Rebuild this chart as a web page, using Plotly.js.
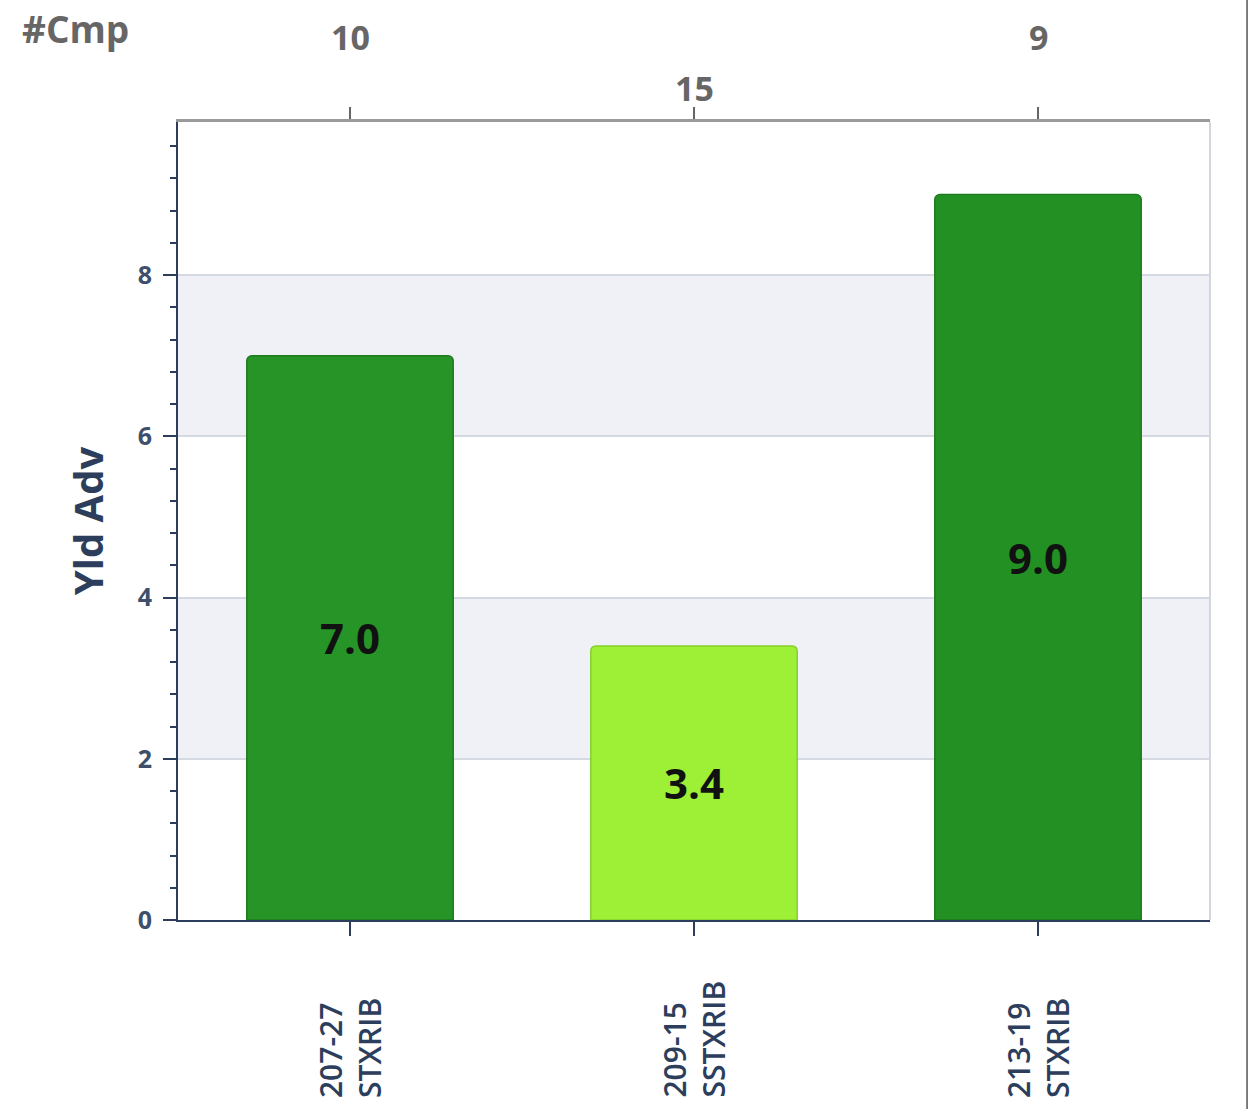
<!DOCTYPE html>
<html>
<head>
<meta charset="utf-8">
<script src="https://cdn.plot.ly/plotly-3.0.1.min.js"></script>
<style>html,body{margin:0;padding:0;background:#fff;}#chart{width:1258px;height:1109px;}</style>
</head>
<body>
<div id="chart"></div>
<script>
// ---- data ----
const categories = ["207-27<br>STXRIB", "209-15<br>SSTXRIB", "213-19<br>STXRIB"];
const yldAdv = [7.0, 3.4, 9.0];
const cmpCounts = [10, 15, 9];
const cmpLabelRow = [0, 1, 0]; // 0 = upper row, 1 = lower row (staggered labels)
const barColors = ["#279427", "#9ef036", "#239023"];
const barLineColors = ["#1d7a1d", "#86cf2e", "#1d7a1d"];
const shadedBands = [[2, 4], [6, 8]];

const FONT = "Open Sans, Liberation Sans, sans-serif";
const NAVY = "#2c3e5c";

const traces = [
  {
    type: "bar",
    x: categories,
    y: yldAdv,
    width: 0.6,
    marker: { color: barColors, line: { color: barLineColors, width: 1.5 }, cornerradius: 5 },
    text: yldAdv.map(v => v.toFixed(1)),
    textposition: "inside",
    insidetextanchor: "middle",
    textangle: 0,
    textfont: { family: FONT, size: 42, weight: 700, color: "#111" },
    hoverinfo: "x+y",
    showlegend: false
  },
  {
    type: "scatter",
    x: categories,
    y: yldAdv,
    xaxis: "x2",
    yaxis: "y",
    mode: "none",
    hoverinfo: "skip",
    showlegend: false
  }
];

const shapes = shadedBands.map(b => ({
  type: "rect", xref: "paper", yref: "y", x0: 0, x1: 1, y0: b[0], y1: b[1],
  fillcolor: "#eff1f6", line: { width: 0 }, layer: "below"
}));
shapes.push({ type: "line", xref: "paper", yref: "paper", x0: 1, x1: 1, y0: 0, y1: 1,
  line: { color: "#d3d6dd", width: 2 } });
shapes.push({ type: "line", xref: "paper", yref: "paper", x0: 1.0359, x1: 1.0359, y0: -0.24, y1: 1.16,
  line: { color: "#555", width: 1.5 } });

const annotations = [
  { text: "#Cmp", xref: "paper", yref: "paper", x: -0.0998, y: 1.117, showarrow: false,
    xanchor: "center", yanchor: "middle",
    font: { family: FONT, size: 37, weight: 700, color: "#666" } }
];
categories.forEach((c, i) => {
  annotations.push({
    text: String(cmpCounts[i]), xref: "x", yref: "paper", x: c,
    y: cmpLabelRow[i] === 0 ? 1.1065 : 1.0426, showarrow: false,
    xanchor: "center", yanchor: "middle",
    font: { family: FONT, size: 34, weight: 700, color: "#666" }
  });
  annotations.push({
    text: c, xref: "x", yref: "paper", x: c, y: -0.2256, showarrow: false,
    textangle: -90, xanchor: "center", yanchor: "bottom", align: "left",
    font: { family: FONT, size: 30, weight: 600, color: NAVY }
  });
});

const layout = {
  width: 1258, height: 1109,
  margin: { l: 178, r: 48, t: 122, b: 189, pad: 0 },
  paper_bgcolor: "#fff", plot_bgcolor: "rgba(0,0,0,0)",
  showlegend: false,
  bargap: 0.4,
  xaxis: {
    type: "category", categoryorder: "array", categoryarray: categories,
    range: [-0.5, 2.5], showticklabels: false, showgrid: false, zeroline: false,
    ticks: "outside", ticklen: 14, tickwidth: 2, tickcolor: NAVY,
    showline: true, linecolor: NAVY, linewidth: 2
  },
  xaxis2: {
    type: "category", categoryorder: "array", categoryarray: categories,
    overlaying: "x", side: "top", anchor: "y",
    range: [-0.5, 2.5], showticklabels: false, showgrid: false, zeroline: false,
    ticks: "outside", ticklen: 12, tickwidth: 2, tickcolor: "#666",
    showline: true, linecolor: "#9a9a9a", linewidth: 2.5
  },
  yaxis: {
    range: [0, 9.9], tick0: 0, dtick: 2,
    ticks: "outside", ticklen: 13, tickwidth: 2, tickcolor: NAVY,
    showline: true, linecolor: NAVY, linewidth: 2,
    showgrid: true, gridcolor: "#d5d9e2", gridwidth: 1.5, zeroline: false,
    ticklabelstandoff: 6,
    tickfont: { family: FONT, size: 25, weight: 700, color: "#3e4f6b" },
    minor: { dtick: 0.4, tick0: 0, ticks: "outside", ticklen: 6, tickwidth: 1.5, tickcolor: NAVY, showgrid: false },
    title: { text: "Yld Adv", standoff: 22, font: { family: FONT, size: 40, weight: 700, color: NAVY } }
  },
  shapes: shapes,
  annotations: annotations
};

Plotly.newPlot("chart", traces, layout, { displayModeBar: false, staticPlot: false });
</script>
</body>
</html>
